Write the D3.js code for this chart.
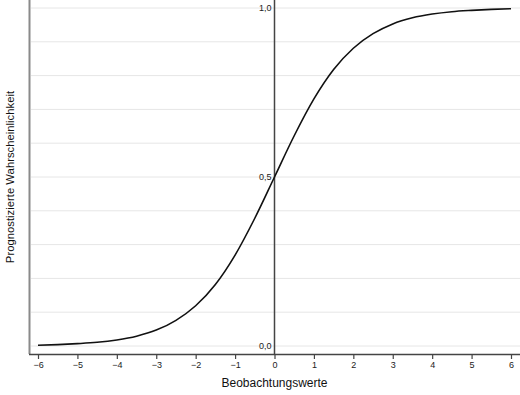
<!DOCTYPE html>
<html><head><meta charset="utf-8">
<script src="https://cdn.jsdelivr.net/npm/d3@7"></script>
<style>body{margin:0;background:#fff}svg{display:block}</style>
</head><body><svg id="c" width="520" height="395"></svg>
<script>
const xValues = [-6,-5.5,-5,-4.5,-4,-3.5,-3,-2.5,-2,-1.5,-1,-0.5,0,0.5,1,1.5,2,2.5,3,3.5,4,4.5,5,5.5,6];
const probValues = [0.002,0.004,0.007,0.011,0.018,0.029,0.047,0.076,0.119,0.182,0.269,0.378,0.5,0.622,0.731,0.818,0.881,0.924,0.953,0.971,0.982,0.989,0.993,0.996,0.998];
const xTicks = [-6,-5,-4,-3,-2,-1,0,1,2,3,4,5,6];
const xTickLabels = ["\u22126","\u22125","\u22124","\u22123","\u22122","\u22121","0","1","2","3","4","5","6"];
const yGrid = [0,0.1,0.2,0.3,0.4,0.5,0.6,0.7,0.8,0.9,1.0];
const yTicks = [0,0.5,1.0];
const yTickLabels = ["0,0","0,5","1,0"];

const svg = d3.select("#c");
const font = "'Liberation Sans', Arial, sans-serif";
const x = d3.scaleLinear().domain([-6,6]).range([38,511]);
const y = d3.scaleLinear().domain([0,1]).range([346,8]);

// gridlines
svg.append("g").selectAll("line").data(yGrid).join("line")
  .attr("x1",31).attr("x2",520)
  .attr("y1",d=>y(d)).attr("y2",d=>y(d))
  .attr("stroke","#e6e6e6").attr("stroke-width",1);

// left axis line
svg.append("line").attr("x1",29.5).attr("x2",29.5).attr("y1",0).attr("y2",354)
  .attr("stroke","#8a8a8a").attr("stroke-width",2);

// zero vertical line
svg.append("line").attr("x1",x(0)).attr("x2",x(0)).attr("y1",0).attr("y2",354)
  .attr("stroke","#444").attr("stroke-width",1.5);

// bottom axis
const xAxis = d3.axisBottom(x).tickValues(xTicks).tickSize(5).tickPadding(3)
  .tickFormat((d,i)=>xTickLabels[i]);
const gx = svg.append("g").attr("transform","translate(0,354)").call(xAxis);
gx.select(".domain").attr("d","M29,0.5H520").attr("stroke","#444").attr("stroke-width",1.5);
gx.selectAll(".tick line").attr("stroke","#444").attr("stroke-width",1.2);
gx.selectAll(".tick text").attr("font-family",font).attr("font-size",9).attr("fill","#222");

// y tick labels near zero line
svg.append("g").selectAll("text").data(yTicks).join("text")
  .attr("x",x(0)-3).attr("y",d=>y(d)+3)
  .attr("text-anchor","end").attr("font-family",font).attr("font-size",9).attr("fill","#222")
  .text((d,i)=>yTickLabels[i]);

// curve
const line = d3.line().x((d,i)=>x(xValues[i])).y(d=>y(d)).curve(d3.curveMonotoneX);
svg.append("path").datum(probValues).attr("d",line)
  .attr("fill","none").attr("stroke","#111").attr("stroke-width",1.6);

// axis titles
svg.append("text").attr("x",x(0)).attr("y",387).attr("text-anchor","middle")
  .attr("font-family",font).attr("font-size",12).attr("fill","#111").text("Beobachtungswerte");
svg.append("text").attr("transform",`translate(14,${y(0.5)}) rotate(-90)`).attr("text-anchor","middle")
  .attr("font-family",font).attr("font-size",11.3).attr("fill","#111").text("Prognostizierte Wahrscheinlichkeit");
</script></body></html>
